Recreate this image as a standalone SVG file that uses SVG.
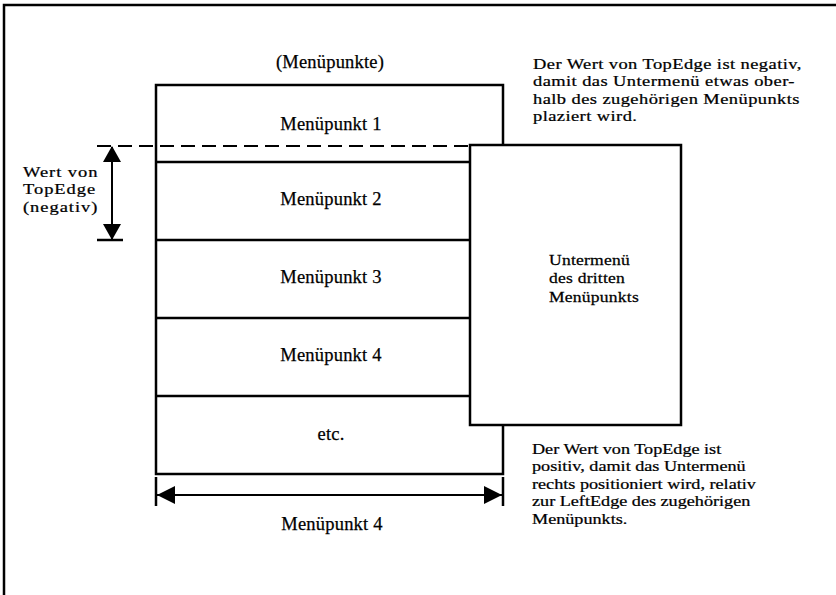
<svg xmlns="http://www.w3.org/2000/svg" width="836" height="595" viewBox="0 0 836 595">
<style>
.t{font-family:"Liberation Serif","Times New Roman",serif;font-size:18.5px;fill:#000;stroke:#000;stroke-width:0.25px;letter-spacing:0.2px}
.p{font-size:15.4px}
.c{text-anchor:middle}
.ln{stroke:#000;stroke-width:2.5;fill:none}
.box{stroke:#000;stroke-width:2.5;fill:#fff}
</style>
<rect width="836" height="595" fill="#fff"/>
<g id="frame">
<path d="M4,595 V5 H836" class="ln" stroke-width="1.5"/>
</g>
<text id="title" class="t c" x="330" y="68">(Menüpunkte)</text>
<g id="menu">
<g id="item1"><path class="ln" d="M156,162 V85 H503 V146"/><text class="t c" x="331" y="130">Menüpunkt 1</text></g>
<g id="item2"><path class="ln" d="M156,162 H470 M156,162 V240"/><text class="t c" x="331" y="205">Menüpunkt 2</text></g>
<g id="item3"><path class="ln" d="M156,240 H470 M156,240 V318"/><text class="t c" x="331" y="283">Menüpunkt 3</text></g>
<g id="item4"><path class="ln" d="M156,318 H470 M156,318 V396"/><text class="t c" x="331" y="361">Menüpunkt 4</text></g>
<g id="etc"><path class="ln" d="M156,396 H470 M156,396 V474 H503 V425"/><text class="t c" x="331" y="440">etc.</text></g>
</g>
<g id="submenu">
<rect class="box" x="470" y="145" width="211" height="280"/>
<text class="t p" transform="translate(549,0) scale(1.14,1)"><tspan x="0" y="265">Untermenü</tspan><tspan x="0" y="283.5">des dritten</tspan><tspan x="0" y="302">Menüpunkts</tspan></text>
</g>
<g id="connectors">
<path d="M97,146 H470" stroke="#000" stroke-width="2" stroke-dasharray="14,7" fill="none"/>
<path d="M97,240 H123" class="ln" stroke-width="2"/>
<path d="M112,147 V239" stroke="#000" stroke-width="2" fill="none"/>
<path d="M103,162 L112,146 L121,162 Z M103,224 L112,240 L121,224 Z" fill="#000"/>
<path d="M156,477 V506 M503,477 V506" class="ln" stroke-width="2"/>
<path d="M157,495 H502" stroke="#000" stroke-width="2" fill="none"/>
<path d="M157,495 L175,486 L175,504 Z M502,495 L484,486 L484,504 Z" fill="#000"/>
</g>
<g id="labels">
<text id="topedge" class="t p" transform="translate(23,0) scale(1.2,1)" style="letter-spacing:0.8px"><tspan x="0" y="177">Wert von</tspan><tspan x="0" y="194.5">TopEdge</tspan><tspan x="0" y="212">(negativ)</tspan></text>
<text id="width" class="t c" x="332" y="530">Menüpunkt 4</text>
<text id="note-top" class="t p" transform="translate(533,0) scale(1.2,1)" style="letter-spacing:0.35px"><tspan x="0" y="69">Der Wert von TopEdge ist negativ,</tspan><tspan x="0" y="86.5">damit das Untermenü etwas ober-</tspan><tspan x="0" y="104">halb des zugehörigen Menüpunkts</tspan><tspan x="0" y="121.5">plaziert  wird.</tspan></text>
<text id="note-bottom" class="t p" transform="translate(532,0) scale(1.18,1)" style="letter-spacing:0px"><tspan x="0" y="454">Der Wert von TopEdge ist</tspan><tspan x="0" y="471.5">positiv, damit das Untermenü</tspan><tspan x="0" y="489">rechts positioniert wird, relativ</tspan><tspan x="0" y="506.5">zur LeftEdge des zugehörigen</tspan><tspan x="0" y="524">Menüpunkts.</tspan></text>
</g>
</svg>
